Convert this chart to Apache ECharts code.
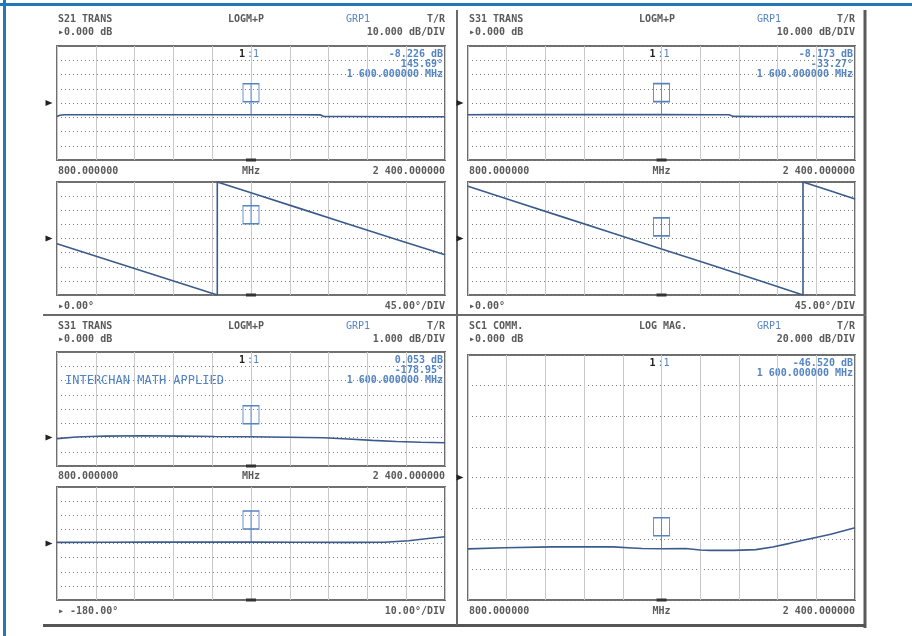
<!DOCTYPE html>
<html>
<head>
<meta charset="utf-8">
<script src="https://cdn.jsdelivr.net/npm/echarts@6/dist/echarts.min.js"></script>
<style>
  html, body { margin: 0; padding: 0; background: #ffffff; }
  #chart { width: 912px; height: 636px; }
</style>
</head>
<body>
<div id="chart"></div>
<script>
// ---- sweep ----
const freqStart = 800;
const freqStop = 2400;
const freqDiv = 160;
const markerFreq = 1600;
const freqStartLabel = '800.000000';
const freqStopLabel = '2 400.000000';
const freqUnitLabel = 'MHz';
const markerFreqLabel = '1 600.000000 MHz';

// ---- channel header text ----
const panelTitles = ['S21 TRANS', 'S31 TRANS', 'S31 TRANS', 'SC1 COMM.'];
const panelFormats = ['LOGM+P', 'LOGM+P', 'LOGM+P', 'LOG MAG.'];
const panelGroup = 'GRP1';
const panelMode = 'T/R';
const magRefLabels = ['\u25B80.000 dB', '\u25B80.000 dB', '\u25B80.000 dB', '\u25B80.000 dB'];
const magScaleLabels = ['10.000 dB/DIV', '10.000 dB/DIV', '1.000 dB/DIV', '20.000 dB/DIV'];
const phaseRefLabels = ['\u25B80.00\u00B0', '\u25B80.00\u00B0', '\u25B8 -180.00\u00B0'];
const phaseScaleLabels = ['45.00\u00B0/DIV', '45.00\u00B0/DIV', '10.00\u00B0/DIV'];
const mathNote = 'INTERCHAN MATH APPLIED';

// ---- marker 1 readouts ----
const markerMagDb = [-8.226, -8.173, 0.053, -46.520];
const markerPhaseDeg = [145.69, -33.27, -178.95];

// ---- S21 transmission ----
const s21MagFreq = [800, 812, 830, 900, 1000, 1200, 1400, 1600, 1800, 1885, 1900, 2000, 2200, 2400];
const s21MagDb   = [-9.4, -8.6, -8.2, -8.2, -8.2, -8.2, -8.2, -8.226, -8.25, -8.3, -9.5, -9.5, -9.6, -9.6];
const s21PhaseFreq = [800, 1000, 1200, 1400, 1461, 1461, 1600, 1800, 2000, 2200, 2400];
const s21PhaseDeg  = [-16.7, -66, -115.5, -165, -180, 180, 145.69, 96, 46.5, -3, -52];

// ---- S31 transmission ----
const s31MagFreq = [800, 900, 1000, 1200, 1400, 1600, 1800, 1880, 1895, 2000, 2200, 2400];
const s31MagDb   = [-8.2, -8.15, -8.15, -8.15, -8.17, -8.173, -8.2, -8.25, -9.4, -9.5, -9.5, -9.6];
const s31PhaseFreq = [800, 1000, 1200, 1400, 1600, 1800, 2000, 2185, 2185, 2300, 2400];
const s31PhaseDeg  = [166.5, 116.5, 66.5, 16.5, -33.27, -83, -133, -180, 180, 151, 126];

// ---- S31 / S21 (interchannel math) ----
const ratioMagFreq = [800, 880, 1000, 1150, 1300, 1450, 1600, 1750, 1900, 2000, 2100, 2200, 2300, 2400];
const ratioMagDb   = [-0.08, 0.04, 0.1, 0.12, 0.1, 0.07, 0.053, 0.02, -0.02, -0.1, -0.2, -0.28, -0.33, -0.37];
const ratioPhaseFreq = [800, 1000, 1200, 1400, 1600, 1800, 2000, 2150, 2250, 2330, 2400];
const ratioPhaseDeg  = [-179.2, -179.1, -179.0, -179.0, -178.95, -179.1, -179.2, -179.1, -178.0, -176.5, -175.2];

// ---- common mode SC1 ----
const commonFreq = [800, 950, 1150, 1400, 1480, 1520, 1600, 1700, 1760, 1800, 1900, 1990, 2060, 2130, 2200, 2300, 2400];
const commonDb   = [-46.6, -45.9, -45.3, -45.3, -46.0, -46.4, -46.52, -46.4, -47.3, -47.6, -47.6, -47.1, -45.4, -43.0, -40.5, -37.0, -32.8];

// ---------------------------------------------------------------
const TRACE = '#3a5b8c';
const BLUE_TXT = '#5584c2';
const GREY_TXT = '#5a5a5a';
const FONT = '"DejaVu Sans Mono", "Liberation Mono", monospace';

const pairs = (xs, ys) => xs.map((x, i) => [x, ys[i]]);

// plot boxes: [left, top, width, height]
const boxes = [
  [57, 46, 388, 114],   // 0 S21 mag
  [57, 182, 388, 113],  // 1 S21 phase
  [468, 46, 387, 114],  // 2 S31 mag
  [468, 182, 387, 113], // 3 S31 phase
  [57, 352, 388, 114],  // 4 ratio mag
  [57, 487, 388, 113],  // 5 ratio phase
  [468, 355, 387, 245]  // 6 common mode mag
];
// y scale of each box: min, max, per-division, reference value
const yScales = [
  [-40, 40, 10, 0],
  [-180, 180, 45, 0],
  [-40, 40, 10, 0],
  [-180, 180, 45, 0],
  [-2, 6, 1, 0],
  [-220, -140, 10, -180],
  [-80, 80, 20, 0]
];
const traces = [
  pairs(s21MagFreq, s21MagDb),
  pairs(s21PhaseFreq, s21PhaseDeg),
  pairs(s31MagFreq, s31MagDb),
  pairs(s31PhaseFreq, s31PhaseDeg),
  pairs(ratioMagFreq, ratioMagDb),
  pairs(ratioPhaseFreq, ratioPhaseDeg),
  pairs(commonFreq, commonDb)
];
const markerValues = [
  markerMagDb[0], markerPhaseDeg[0],
  markerMagDb[1], markerPhaseDeg[1],
  markerMagDb[2], markerPhaseDeg[2],
  markerMagDb[3]
];
// marker box sits above the trace, except where the trace runs near the top edge
const markerBelow = [false, true, false, false, false, false, false];

const MARK_UP = 'path://M0 0 L16 0 L16 18 L0 18 Z M8 0 L8 31';
const MARK_DOWN = 'path://M0 13 L16 13 L16 31 L0 31 Z M8 0 L8 31';

const grid = [], xAxis = [], yAxis = [], series = [];
boxes.forEach((b, i) => {
  grid.push({ left: b[0], top: b[1], width: b[2], height: b[3], show: true,
    borderColor: '#6e6e6e', borderWidth: 2, backgroundColor: 'transparent' });
  xAxis.push({ type: 'value', gridIndex: i, min: freqStart, max: freqStop, interval: freqDiv,
    axisLine: { show: false }, axisTick: { show: false }, axisLabel: { show: false },
    splitLine: { show: true, lineStyle: { color: '#c9c9c9', width: 1 } } });
  const s = yScales[i];
  yAxis.push({ type: 'value', gridIndex: i, min: s[0], max: s[1], interval: s[2],
    axisLine: { show: false }, axisTick: { show: false }, axisLabel: { show: false },
    splitLine: { show: true, lineStyle: { color: '#7a7a7a', width: 1, type: [1, 3] } } });
  const below = markerBelow[i];
  series.push({
    type: 'line', xAxisIndex: i, yAxisIndex: i, data: traces[i],
    showSymbol: false, symbol: 'none', animation: false, silent: true,
    lineStyle: { color: TRACE, width: 1.6 },
    markPoint: {
      silent: true, animation: false, label: { show: false },
      data: [
        { coord: [markerFreq, markerValues[i]], symbol: below ? MARK_DOWN : MARK_UP,
          symbolSize: [16, 31], symbolOffset: [0, below ? 15.5 : -15.5],
          itemStyle: { color: 'transparent', borderColor: '#5584c2', borderWidth: 1.2 } },
        { coord: [freqStart, s[3]], symbol: 'triangle', symbolSize: [6, 7], symbolRotate: -90,
          symbolOffset: [-8, 0], itemStyle: { color: '#222' } },
        { coord: [markerFreq, s[0]], symbol: 'rect', symbolSize: [10, 3],
          itemStyle: { color: '#333' } }
      ]
    }
  });
});

// ---- text and frame ----
const graphic = [];
function txt(x, y, text, align, color, weight, size) {
  graphic.push({ type: 'text', x: x, y: y, silent: true, style: {
    text: text, fill: color || GREY_TXT,
    font: (weight || 'bold') + ' ' + (size || 10) + 'px ' + FONT,
    textAlign: align || 'left', textVerticalAlign: 'middle' } });
}
function line(x1, y1, x2, y2, color, w) {
  graphic.push({ type: 'line', silent: true, shape: { x1: x1, y1: y1, x2: x2, y2: y2 },
    style: { stroke: color, lineWidth: w } });
}

// outer blue frame and screen dividers
line(4.5, 0, 4.5, 636, '#2276ba', 3);
line(0, 4.5, 912, 4.5, '#2276ba', 3);
line(865, 10, 865, 628, '#5a5a5a', 3);
line(43, 625.5, 866, 625.5, '#555555', 3);
line(457, 10, 457, 625, '#6a6a6a', 2);
line(43, 315, 866, 315, '#6a6a6a', 2);

// channel headers: [panel, magBox, phaseBox or -1, header row]
const panels = [[0, 0, 1, 19], [1, 2, 3, 19], [2, 4, 5, 326], [3, 6, -1, 326]];
panels.forEach(p => {
  const k = p[0], mb = boxes[p[1]];
  const L = mb[0], R = mb[0] + mb[2], C = mb[0] + mb[2] / 2, T = mb[1];
  const h1 = p[3], h2 = p[3] + 13;
  txt(L + 1, h1, panelTitles[k]);
  txt(L + 171, h1, panelFormats[k]);
  txt(L + 289, h1, panelGroup, 'left', BLUE_TXT, 'normal');
  txt(R, h1, panelMode, 'right');
  txt(L + 1, h2, magRefLabels[k]);
  txt(R, h2, magScaleLabels[k], 'right');

  // marker readout
  const mx = C;
  txt(mx - 12, T + 8, '1', 'left', '#222');
  txt(mx - 4, T + 8, ':1', 'left', BLUE_TXT, 'normal');
  txt(R - 2, T + 8, markerMagDb[k].toFixed(3) + ' dB', 'right', BLUE_TXT);
  if (p[2] >= 0) {
    txt(R - 2, T + 18, markerPhaseDeg[k].toFixed(2) + '\u00B0', 'right', BLUE_TXT);
    txt(R - 2, T + 28, markerFreqLabel, 'right', BLUE_TXT);
  } else {
    txt(R - 2, T + 18, markerFreqLabel, 'right', BLUE_TXT);
  }

  if (p[2] >= 0) {
    const pb = boxes[p[2]];
    const fy = (mb[1] + mb[3] + pb[1]) / 2;
    txt(L + 1, fy, freqStartLabel);
    txt(C, fy, freqUnitLabel, 'center');
    txt(R, fy, freqStopLabel, 'right');
    const by = pb[1] + pb[3] + 11;
    txt(L + 1, by, phaseRefLabels[k]);
    txt(R, by, phaseScaleLabels[k], 'right');
  } else {
    const fy = mb[1] + mb[3] + 11;
    txt(L + 1, fy, freqStartLabel);
    txt(C, fy, freqUnitLabel, 'center');
    txt(R, fy, freqStopLabel, 'right');
  }
});
txt(boxes[4][0] + 8, boxes[4][1] + 29, mathNote, 'left', BLUE_TXT, 'normal', 12);

const chart = echarts.init(document.getElementById('chart'));
chart.setOption({
  animation: false,
  backgroundColor: '#ffffff',
  grid: grid, xAxis: xAxis, yAxis: yAxis, series: series,
  graphic: graphic
});
</script>
</body>
</html>
